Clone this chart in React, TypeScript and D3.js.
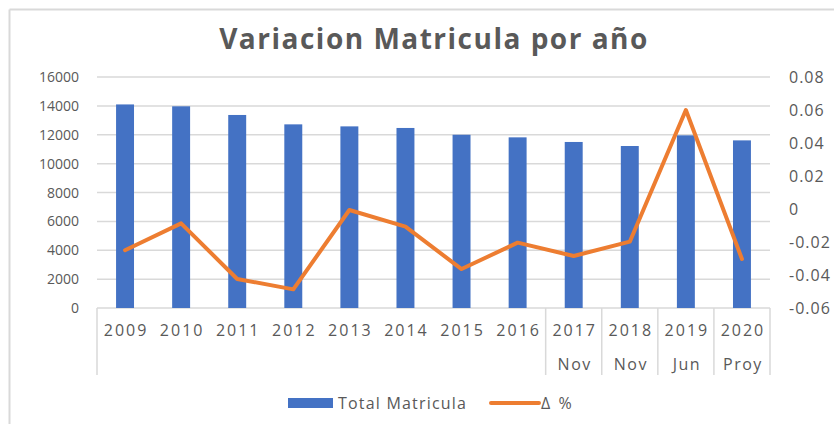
import React from "react";
import * as d3 from "d3";

const years = ["2009", "2010", "2011", "2012", "2013", "2014", "2015", "2016", "2017", "2018", "2019", "2020"];
const subLabels = ["", "", "", "", "", "", "", "", "Nov", "Nov", "Jun", "Proy"];
const totalMatricula = [14100, 13970, 13370, 12720, 12580, 12470, 12000, 11820, 11500, 11220, 11960, 11610];
const deltaPct = [-0.025, -0.0087, -0.0424, -0.0487, -0.0006, -0.0107, -0.0364, -0.0204, -0.0285, -0.0198, 0.06, -0.0303];
const leftTicks = [0, 2000, 4000, 6000, 8000, 10000, 12000, 14000, 16000];
const rightTicks = [-0.06, -0.04, -0.02, 0, 0.02, 0.04, 0.06, 0.08];
const title = "Variacion Matricula por año";
const seriesNames = ["Total Matricula", "Δ  %"];

const W = 834, H = 424;
const plotL = 97, plotR = 770, plotT = 77, plotB = 308;
const blue = "#4472C4", orange = "#ED7D31", grid = "#d9d9d9", text = "#595959";
const font = "'Open Sans', sans-serif";

export default function App() {
  const x = d3.scaleBand<string>().domain(years).range([plotL, plotR]).paddingInner(0.68).paddingOuter(0.34);
  const band = (plotR - plotL) / years.length;
  const yL = d3.scaleLinear().domain([0, 16000]).range([plotB, plotT]);
  const yR = d3.scaleLinear().domain([-0.06, 0.08]).range([plotB, plotT]);
  const line = d3.line<number>()
    .x((_, i) => plotL + band * (i + 0.5))
    .y((d) => yR(d));
  const fmtR = (v: number) => (Math.abs(v) < 1e-9 ? "0" : String(+v.toFixed(2)));

  return (
    <svg width={W} height={H} style={{ position: "absolute", left: 0, top: 0, background: "#fff" }}>
      <line x1={9.5} y1={9.5} x2={W} y2={9.5} stroke={grid} strokeWidth={2} />
      <line x1={9.5} y1={9.5} x2={9.5} y2={H} stroke={grid} strokeWidth={2} />
      <text x={434} y={49} textAnchor="middle" fontFamily={font} fontWeight="bold" fontSize={28} letterSpacing={1.5} fill={text}>{title}</text>
      {leftTicks.map((t) => (
        <g key={"g" + t}>
          <line x1={plotL} x2={plotR} y1={yL(t)} y2={yL(t)} stroke={grid} strokeWidth={1.5} />
          <text x={79} y={yL(t) + 5} textAnchor="end" fontFamily={font} fontSize={14} fill={text}>{t}</text>
        </g>
      ))}
      {rightTicks.map((t) => (
        <text key={"r" + t} x={789} y={yR(t) + 5.5} textAnchor="start" fontFamily={font} fontSize={16} letterSpacing={1} fill={text}>{fmtR(t)}</text>
      ))}
      {years.map((yr, i) => (
        <rect key={yr} x={x(yr)} y={yL(totalMatricula[i])} width={x.bandwidth()} height={plotB - yL(totalMatricula[i])} fill={blue} />
      ))}
      <line x1={plotL} x2={plotL} y1={plotB} y2={375} stroke={grid} strokeWidth={1.5} />
      {years.map((yr, i) => (
        (i >= 7) ? <line key={"s" + yr} x1={plotL + band * (i + 1)} x2={plotL + band * (i + 1)} y1={plotB} y2={375} stroke={grid} strokeWidth={1.5} /> : null
      ))}
      {years.map((yr, i) => (
        <g key={"l" + yr}>
          <text x={plotL + band * (i + 0.5) + 1} y={336} textAnchor="middle" fontFamily={font} fontSize={16} letterSpacing={2} fill={text}>{yr}</text>
          {subLabels[i] ? <text x={plotL + band * (i + 0.5) + 1} y={370} textAnchor="middle" fontFamily={font} fontSize={16} letterSpacing={1.5} fill={text}>{subLabels[i]}</text> : null}
        </g>
      ))}
      <path d={line(deltaPct) || ""} fill="none" stroke={orange} strokeWidth={4} strokeLinejoin="round" strokeLinecap="round" />
      <rect x={288} y={398} width={45} height={10} fill={blue} />
      <text x={338} y={409} fontFamily={font} fontSize={16} letterSpacing={1.2} fill={text}>{seriesNames[0]}</text>
      <line x1={491} x2={539} y1={403} y2={403} stroke={orange} strokeWidth={4} strokeLinecap="round" />
      <text x={541} y={409} fontFamily={font} fontSize={16} fill={text} style={{ whiteSpace: "pre" }}>{seriesNames[1]}</text>
    </svg>
  );
}
